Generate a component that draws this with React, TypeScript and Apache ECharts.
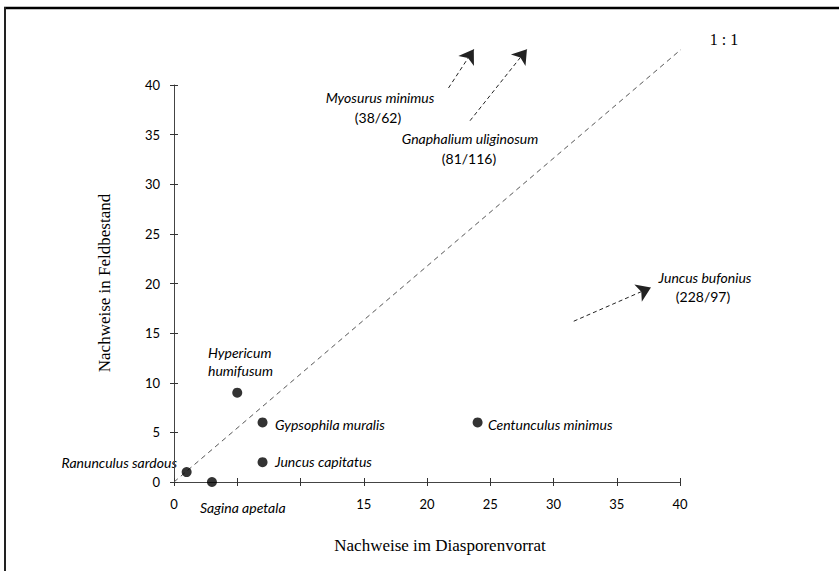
import React, { useEffect, useRef } from 'react';
import * as echarts from 'echarts';

// Plotted species (Nachweise im Diasporenvorrat / Nachweise in Feldbestand)
const speciesNames = [
  'Ranunculus sardous',
  'Sagina apetala',
  'Hypericum humifusum',
  'Gypsophila muralis',
  'Juncus capitatus',
  'Centunculus minimus',
];
const seedBankCounts = [1, 3, 5, 7, 7, 24];
const fieldCounts = [1, 0, 9, 6, 2, 6];

// Tick values and labels
const xTicks = [0, 5, 10, 15, 20, 25, 30, 35, 40];
const xTickLabels = ['0', '', '', '15', '20', '25', '30', '35', '40'];
const yTicks = [0, 5, 10, 15, 20, 25, 30, 35, 40];
const yTickLabels = ['0', '5', '10', '15', '20', '25', '30', '35', '40'];

// 1:1 reference line (as drawn in the figure)
const identityLine = [
  [0, 0],
  [41.2, 44.8],
];

// Off-scale species, shown with arrows
const offscaleNames = ['Myosurus minimus', 'Gnaphalium uliginosum', 'Juncus bufonius'];
const offscaleValues = ['(38/62)', '(81/116)', '(228/97)'];
const arrowStarts = [
  [21.7, 39.7],
  [23.4, 36.4],
  [31.6, 16.2],
];
const arrowEnds = [
  [23.7, 43.6],
  [27.9, 43.6],
  [37.7, 19.6],
];

const SERIF = "'Liberation Serif', 'Times New Roman', serif";
const SANS = "Lato, 'Open Sans', sans-serif";

export default function App() {
  const ref = useRef<HTMLDivElement>(null);

  useEffect(() => {
    if (!ref.current) return;
    const chart = echarts.init(ref.current, undefined, { renderer: 'svg' });

    const axisCommon = {
      type: 'value' as const,
      min: 0,
      max: 40,
      interval: 5,
      splitLine: { show: false },
    };

    const speciesText = (
      text: string,
      x: number,
      y: number,
      align: string = 'left'
    ) => ({
      type: 'text',
      x,
      y,
      silent: true,
      style: {
        text,
        font: `italic 14px ${SANS}`,
        fill: '#000',
        align,
        verticalAlign: 'middle',
      },
    });

    const plainText = (text: string, x: number, y: number) => ({
      type: 'text',
      x,
      y,
      silent: true,
      style: { text, font: `14px ${SANS}`, fill: '#000', align: 'center', verticalAlign: 'middle' },
    });

    const option: any = {
      animation: false,
      backgroundColor: '#ffffff',
      grid: { left: 174, right: 159, top: 85, bottom: 89, containLabel: false },
      xAxis: [
        {
          ...axisCommon,
          position: 'bottom',
          axisLine: { show: true, lineStyle: { color: '#444', width: 1 } },
          axisTick: { show: true, length: 4, lineStyle: { color: '#333' } },
          axisLabel: {
            show: true,
            margin: 15,
            fontFamily: SANS,
            fontSize: 13,
            color: '#000',
            formatter: (v: number) => {
              const i = xTicks.indexOf(v);
              return i >= 0 ? xTickLabels[i] : '';
            },
          },
        },
        {
          ...axisCommon,
          position: 'bottom',
          axisLine: { show: false },
          axisTick: { show: true, inside: true, length: 4, lineStyle: { color: '#333' } },
          axisLabel: { show: false },
        },
      ],
      yAxis: [
        {
          ...axisCommon,
          position: 'left',
          axisLine: { show: true, lineStyle: { color: '#444', width: 1 } },
          axisTick: { show: true, length: 4, lineStyle: { color: '#333' } },
          axisLabel: {
            show: true,
            margin: 14,
            fontFamily: SANS,
            fontSize: 13,
            color: '#000',
            formatter: (v: number) => {
              const i = yTicks.indexOf(v);
              return i >= 0 ? yTickLabels[i] : '';
            },
          },
        },
        {
          ...axisCommon,
          position: 'left',
          axisLine: { show: false },
          axisTick: { show: true, inside: true, length: 4, lineStyle: { color: '#333' } },
          axisLabel: { show: false },
        },
      ],
      series: [
        {
          type: 'line',
          name: '1:1',
          xAxisIndex: 0,
          yAxisIndex: 0,
          data: identityLine,
          showSymbol: false,
          symbol: 'none',
          clip: false,
          silent: true,
          lineStyle: { color: '#555', width: 1, type: [5, 4] },
          z: 1,
        },
        {
          type: 'lines',
          coordinateSystem: 'cartesian2d',
          xAxisIndex: 0,
          yAxisIndex: 0,
          clip: false,
          silent: true,
          symbol: ['none', 'arrow'],
          symbolSize: [4, 14],
          lineStyle: { color: '#222', width: 1, type: [4, 3], opacity: 1 },
          itemStyle: { color: '#000' },
          data: arrowStarts.map((s, i) => ({ coords: [s, arrowEnds[i]] })),
          z: 2,
        },
        {
          type: 'scatter',
          name: 'Arten',
          xAxisIndex: 0,
          yAxisIndex: 0,
          symbol: 'circle',
          symbolSize: 10,
          clip: false,
          itemStyle: { color: '#000' },
          data: seedBankCounts.map((x, i) => ({
            name: speciesNames[i],
            value: [x, fieldCounts[i]],
          })),
          z: 3,
        },
      ],
      graphic: [
        // scan frame (top and left edges)
        {
          type: 'line',
          silent: true,
          shape: { x1: 4, y1: 8, x2: 839, y2: 8 },
          style: { stroke: '#000', lineWidth: 2.5 },
        },
        {
          type: 'line',
          silent: true,
          shape: { x1: 5, y1: 7, x2: 5, y2: 571 },
          style: { stroke: '#222', lineWidth: 2 },
        },
        // axis titles
        {
          type: 'text',
          x: 440,
          y: 545,
          silent: true,
          style: {
            text: 'Nachweise im Diasporenvorrat',
            font: `17px ${SERIF}`,
            fill: '#000',
            align: 'center',
            verticalAlign: 'middle',
          },
        },
        {
          type: 'text',
          x: 104,
          y: 283,
          rotation: Math.PI / 2,
          silent: true,
          style: {
            text: 'Nachweise in Feldbestand',
            font: `17px ${SERIF}`,
            fill: '#000',
            align: 'center',
            verticalAlign: 'middle',
          },
        },
        // 1:1 label
        {
          type: 'text',
          x: 724,
          y: 39,
          silent: true,
          style: {
            text: '1 : 1',
            font: `16px ${SERIF}`,
            fill: '#000',
            align: 'center',
            verticalAlign: 'middle',
          },
        },
        // plotted species labels
        speciesText(speciesNames[0], 177, 462, 'right'),
        speciesText(speciesNames[1], 200, 507, 'left'),
        speciesText('Hypericum', 208, 352, 'left'),
        speciesText('humifusum', 208, 370, 'left'),
        speciesText(speciesNames[3], 275, 424, 'left'),
        speciesText(speciesNames[4], 275, 461, 'left'),
        speciesText(speciesNames[5], 488, 424, 'left'),
        // off-scale species labels
        speciesText(offscaleNames[0], 380, 97, 'center'),
        plainText(offscaleValues[0], 378, 117),
        speciesText(offscaleNames[1], 470, 138, 'center'),
        plainText(offscaleValues[1], 469, 158),
        speciesText(offscaleNames[2], 705, 277, 'center'),
        plainText(offscaleValues[2], 703, 296),
      ],
    };

    chart.setOption(option);
    return () => {
      chart.dispose();
    };
  }, []);

  return (
    <div
      ref={ref}
      style={{ position: 'absolute', left: 0, top: 0, width: 839, height: 571, background: '#fff' }}
    />
  );
}
